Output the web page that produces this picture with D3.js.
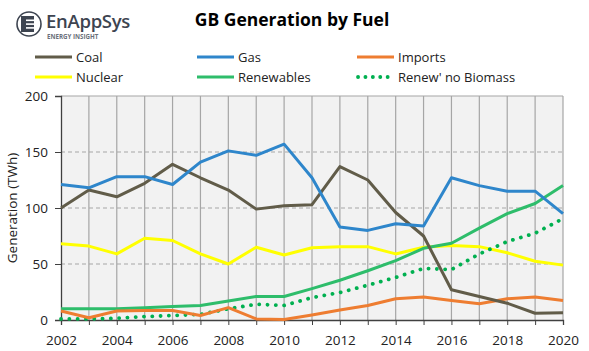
<!DOCTYPE html>
<html><head><meta charset="utf-8">
<script src="https://cdn.jsdelivr.net/npm/d3@7"></script>
<style>body{margin:0;background:#fff;}svg{display:block;font-family:"Open Sans",sans-serif;}</style>
</head><body>
<script>
const years = [2002,2003,2004,2005,2006,2007,2008,2009,2010,2011,2012,2013,2014,2015,2016,2017,2018,2019,2020];
const coal = [100,116,110,122,139,127,116,99,102,103,137,125,96,75,27,21,15,6,6.5];
const gas = [121,118,128,128,121,141,151,147,157,127,83,80,86,84,127,120,115,115,95];
const imports = [8,2,8,8.5,8.5,4,11,1,0.5,4.5,9,13,19,20.5,17.5,14.5,19,20.5,17.5];
const nuclear = [68,66,59,73,71,59,50,65,58,64.5,65.5,65.5,59,65,66.5,65.5,60,52.5,49];
const renewables = [10,10,10,11,12,13,17,21,21,28,35.5,44,53,64,68.5,82,95,104,120];
const renewNoBio = [1,1,1.5,3,4,5,10,14,13,20,24.5,31,38,46,45,59,70,77.5,90.5];
const yTicks = [0,50,100,150,200];
const xLabels = [2002,2004,2006,2008,2010,2012,2014,2016,2018,2020];

const series = [
  {name:"Coal", values:coal, color:"#615c49", dotted:false},
  {name:"Gas", values:gas, color:"#2e86cb", dotted:false},
  {name:"Imports", values:imports, color:"#ee7d31", dotted:false},
  {name:"Nuclear", values:nuclear, color:"#ffff00", dotted:false},
  {name:"Renewables", values:renewables, color:"#2ebd6b", dotted:false},
  {name:"Renew' no Biomass", values:renewNoBio, color:"#00b050", dotted:true}
];

const W=589,H=351;
const svg=d3.select("body").append("svg").attr("width",W).attr("height",H);
const L=61,R=563,T=96,B=320;
const x=d3.scaleLinear().domain([2002,2020]).range([L,R]);
const y=d3.scaleLinear().domain([0,200]).range([B,T]);

// logo
const lg=svg.append("g");
lg.append("circle").attr("cx",29).attr("cy",24).attr("r",12).attr("fill","none").attr("stroke","#3d4450").attr("stroke-width",1.6);
lg.append("rect").attr("x",21).attr("y",16).attr("width",13).attr("height",16).attr("fill","#3d4450");
[19.5,23.3,27.1].forEach(v=>lg.append("rect").attr("x",26).attr("y",v).attr("width",9).attr("height",1.6).attr("fill","#fff"));
lg.append("text").attr("x",46).attr("y",28).attr("font-size",18.5).attr("font-weight",600).attr("fill","#3d4450").attr("letter-spacing","-0.3").text("EnAppSys");
lg.append("text").attr("x",47).attr("y",38.5).attr("font-size",6.2).attr("font-weight",700).attr("fill","#6a707a").text("ENERGY INSIGHT");

// title
svg.append("text").attr("x",292).attr("y",26).attr("text-anchor","middle").attr("font-size",17.5).attr("font-weight",700).attr("fill","#000").text("GB Generation by Fuel");

// plot background
svg.append("rect").attr("x",L).attr("y",T).attr("width",R-L).attr("height",B-T).attr("fill","#f2f2f2");
// vertical grid
svg.append("g").selectAll("line").data(years.slice(1)).join("line")
  .attr("x1",d=>x(d)).attr("x2",d=>x(d)).attr("y1",T).attr("y2",B)
  .attr("stroke","#a6a6a6").attr("stroke-width",1.2);
// horizontal dashed grid
svg.append("g").selectAll("line").data(yTicks.filter(d=>d>0&&d<200)).join("line")
  .attr("x1",L).attr("x2",R).attr("y1",d=>y(d)).attr("y2",d=>y(d))
  .attr("stroke","#a6a6a6").attr("stroke-width",1).attr("stroke-dasharray","4,3");
// top border
svg.append("line").attr("x1",L).attr("x2",R).attr("y1",T).attr("y2",T).attr("stroke","#a6a6a6").attr("stroke-width",1.2);

// axes
const yAxis=d3.axisLeft(y).tickValues(yTicks).tickSize(6).tickPadding(7);
const yg=svg.append("g").attr("transform",`translate(${L},0)`).call(yAxis);
yg.select(".domain").attr("stroke","#404040").attr("stroke-width",1.3);
yg.selectAll(".tick line").attr("stroke","#404040");
yg.selectAll("text").attr("font-size",13.5).attr("fill","#222").attr("font-family","Open Sans");

const xAxis=d3.axisBottom(x).tickValues(years).tickSize(5).tickFormat(d=>xLabels.includes(d)?d:"").tickPadding(10);
const xg=svg.append("g").attr("transform",`translate(0,${B})`).call(xAxis);
xg.select(".domain").attr("stroke","#404040").attr("stroke-width",1.3);
xg.selectAll(".tick line").attr("stroke","#404040");
xg.selectAll("text").attr("font-size",13.5).attr("fill","#222").attr("font-family","Open Sans");

svg.append("text").attr("transform",`translate(17,${(T+B)/2}) rotate(-90)`).attr("text-anchor","middle")
  .attr("font-size",13.5).attr("fill","#222").text("Generation (TWh)");

// lines
const line=d3.line().x((d,i)=>x(years[i])).y(d=>y(d));
const order=[3,4,5,2,0,1];
order.forEach(k=>{
  const s=series[k];
  const p=svg.append("path").attr("d",line(s.values)).attr("fill","none").attr("stroke",s.color)
   .attr("stroke-linejoin","round");
  if(s.dotted){p.attr("stroke-width",3.8).attr("stroke-dasharray","0.1,8.2").attr("stroke-linecap","round");}
  else p.attr("stroke-width",3);
});

// legend
const lgX=[35,197,357], lgY=[57,77];
series.forEach((s,i)=>{
  const cx=lgX[i%3], cy=lgY[Math.floor(i/3)];
  const l=svg.append("line").attr("x1",cx).attr("x2",cx+37).attr("y1",cy).attr("y2",cy).attr("stroke",s.color);
  if(s.dotted) l.attr("stroke-width",3.8).attr("stroke-dasharray","0.1,7.3").attr("stroke-linecap","round").attr("x1",cx+1);
  else l.attr("stroke-width",3);
  svg.append("text").attr("x",cx+41).attr("y",cy+5).attr("font-size",13).attr("fill","#222").text(s.name);
});
</script>
</body></html>
